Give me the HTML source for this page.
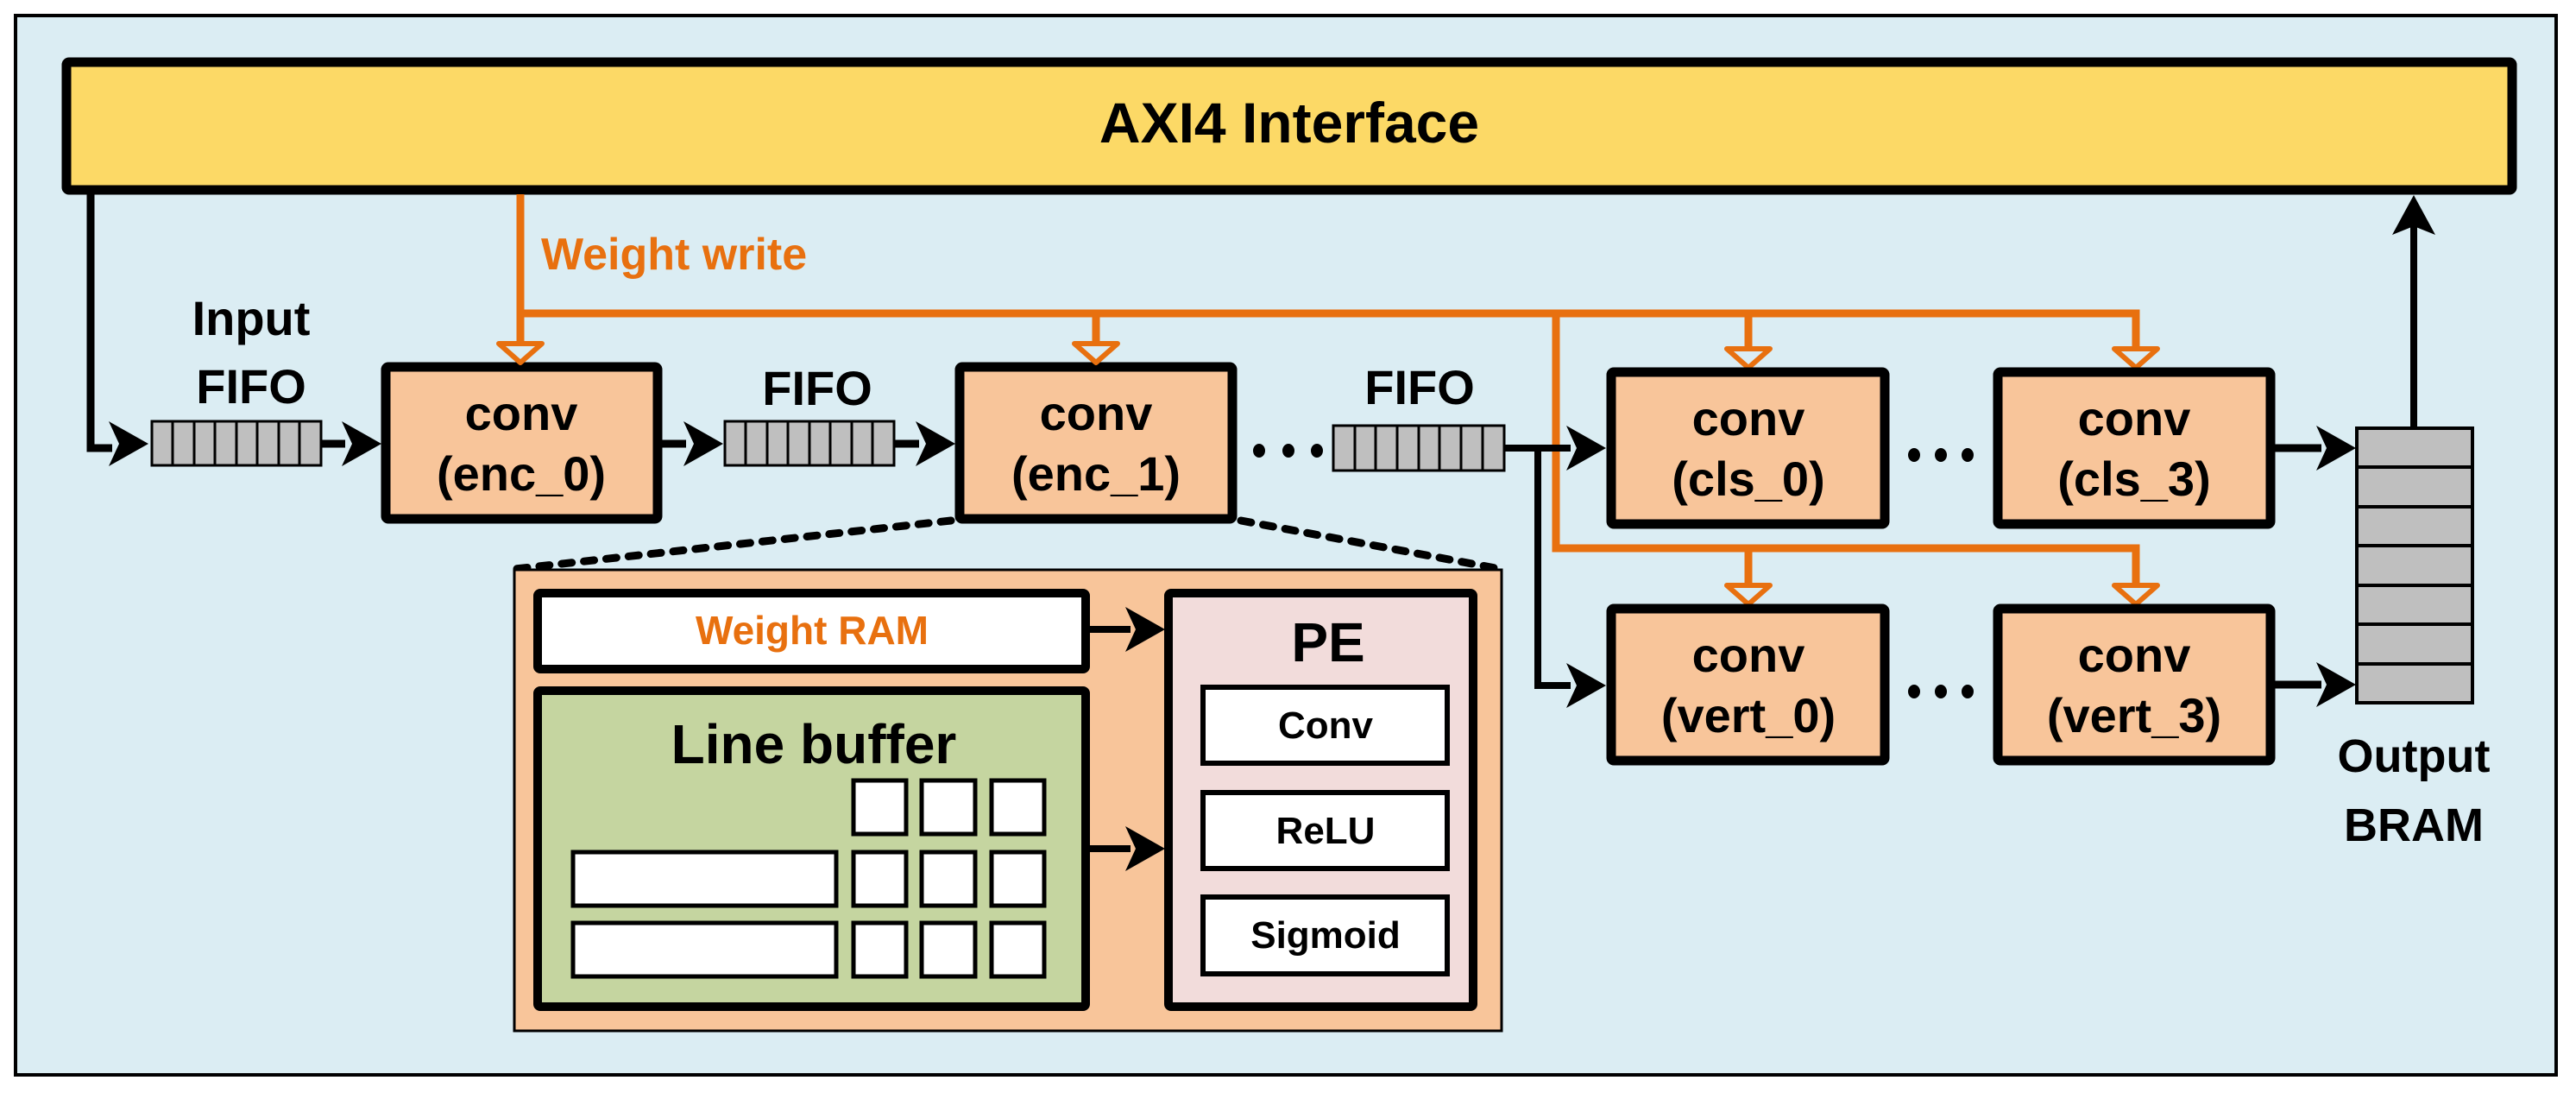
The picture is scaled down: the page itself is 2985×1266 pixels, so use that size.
<!DOCTYPE html>
<html><head><meta charset="utf-8">
<style>
html,body{margin:0;padding:0;background:#fff;}
svg{display:block;}
text{font-family:"Liberation Sans",sans-serif;font-weight:bold;}
</style></head>
<body>
<svg width="2985" height="1266" viewBox="0 0 2985 1266" xmlns="http://www.w3.org/2000/svg">
<defs>
<g id="ah"><polygon points="0,-26 46,0 0,26 12,0" fill="#000"/></g>
<g id="tri"><polygon points="-25,0 25,0 0,22" fill="#dbedf3" stroke="#e8700f" stroke-width="6" stroke-linejoin="round"/></g>
</defs>
<rect x="0" y="0" width="2985" height="1266" fill="#fff"/>
<rect x="18" y="18" width="2944" height="1227" fill="#dbedf3" stroke="#000" stroke-width="4"/>

<!-- AXI -->
<rect x="77" y="72" width="2834" height="148" rx="3" fill="#fcd966" stroke="#000" stroke-width="11"/>
<text x="1494" y="165" font-size="66" text-anchor="middle">AXI4 Interface</text>

<!-- left input line -->
<polyline points="105,225 105,519 130,519" fill="none" stroke="#000" stroke-width="9"/>
<use href="#ah" x="126" y="514"/>

<!-- Input FIFO -->
<rect x="176" y="488" width="196" height="51" fill="#bfbfbf" stroke="#000" stroke-width="3"/>
<g stroke="#000" stroke-width="3">
<line x1="200" y1="488" x2="200" y2="539"/><line x1="225" y1="488" x2="225" y2="539"/><line x1="249" y1="488" x2="249" y2="539"/><line x1="274" y1="488" x2="274" y2="539"/><line x1="298" y1="488" x2="298" y2="539"/><line x1="323" y1="488" x2="323" y2="539"/><line x1="347" y1="488" x2="347" y2="539"/>
</g>
<text x="291" y="388" font-size="56" text-anchor="middle">Input</text>
<text x="291" y="467" font-size="56" text-anchor="middle">FIFO</text>
<line x1="372" y1="514" x2="400" y2="514" stroke="#000" stroke-width="9"/>
<use href="#ah" x="396" y="514"/>

<!-- enc_0 -->
<rect x="447" y="425" width="315" height="176" rx="3" fill="#f8c59a" stroke="#000" stroke-width="11"/>
<text x="604" y="498" font-size="56" text-anchor="middle">conv</text>
<text x="604" y="568" font-size="56" text-anchor="middle">(enc_0)</text>

<line x1="767" y1="514" x2="795" y2="514" stroke="#000" stroke-width="9"/>
<use href="#ah" x="792" y="514"/>

<!-- FIFO 2 -->
<rect x="840" y="488" width="196" height="51" fill="#bfbfbf" stroke="#000" stroke-width="3"/>
<g stroke="#000" stroke-width="3">
<line x1="864" y1="488" x2="864" y2="539"/><line x1="889" y1="488" x2="889" y2="539"/><line x1="913" y1="488" x2="913" y2="539"/><line x1="938" y1="488" x2="938" y2="539"/><line x1="962" y1="488" x2="962" y2="539"/><line x1="987" y1="488" x2="987" y2="539"/><line x1="1011" y1="488" x2="1011" y2="539"/>
</g>
<text x="947" y="469" font-size="56" text-anchor="middle">FIFO</text>
<line x1="1036" y1="514" x2="1065" y2="514" stroke="#000" stroke-width="9"/>
<use href="#ah" x="1061" y="514"/>

<!-- enc_1 -->
<rect x="1112" y="425" width="316" height="176" rx="3" fill="#f8c59a" stroke="#000" stroke-width="11"/>
<text x="1270" y="498" font-size="56" text-anchor="middle">conv</text>
<text x="1270" y="568" font-size="56" text-anchor="middle">(enc_1)</text>

<!-- dots -->
<g fill="#000"><ellipse cx="1459" cy="522" rx="7" ry="8"/><ellipse cx="1493" cy="522" rx="7" ry="8"/><ellipse cx="1526" cy="522" rx="7" ry="8"/></g>

<!-- FIFO 3 -->
<rect x="1545" y="493" width="198" height="52" fill="#bfbfbf" stroke="#000" stroke-width="3"/>
<g stroke="#000" stroke-width="3">
<line x1="1570" y1="493" x2="1570" y2="545"/><line x1="1594" y1="493" x2="1594" y2="545"/><line x1="1619" y1="493" x2="1619" y2="545"/><line x1="1644" y1="493" x2="1644" y2="545"/><line x1="1668" y1="493" x2="1668" y2="545"/><line x1="1693" y1="493" x2="1693" y2="545"/><line x1="1718" y1="493" x2="1718" y2="545"/>
</g>
<text x="1645" y="468" font-size="56" text-anchor="middle">FIFO</text>

<!-- orange weight write -->
<g fill="none" stroke="#e8700f" stroke-width="9">
<line x1="603" y1="225" x2="603" y2="400"/>
<polyline points="603,363 2475,363 2475,405"/>
<line x1="1270" y1="363" x2="1270" y2="400"/>
<line x1="2026" y1="363" x2="2026" y2="405"/>
<polyline points="1803,363 1803,635 2475,635 2475,678"/>
<line x1="2026" y1="635" x2="2026" y2="678"/>
</g>
<use href="#tri" x="603" y="398"/>
<use href="#tri" x="1270" y="398"/>
<use href="#tri" x="2026" y="404"/>
<use href="#tri" x="2475" y="404"/>
<use href="#tri" x="2026" y="678"/>
<use href="#tri" x="2475" y="678"/>
<text x="627" y="312" font-size="52" fill="#e8700f">Weight write</text>

<!-- black from FIFO3 -->
<polyline points="1743,519 1820,519" fill="none" stroke="#000" stroke-width="8"/>
<polyline points="1782,519 1782,794 1820,794" fill="none" stroke="#000" stroke-width="8"/>
<use href="#ah" x="1815" y="519"/>
<use href="#ah" x="1815" y="794"/>

<!-- cls / vert boxes -->
<g fill="#f8c59a" stroke="#000" stroke-width="11">
<rect x="1867" y="431" width="317" height="176" rx="3"/>
<rect x="2315" y="431" width="316" height="176" rx="3"/>
<rect x="1867" y="705" width="317" height="176" rx="3"/>
<rect x="2315" y="705" width="316" height="176" rx="3"/>
</g>
<g font-size="56" text-anchor="middle">
<text x="2026" y="504">conv</text><text x="2026" y="574">(cls_0)</text>
<text x="2473" y="504">conv</text><text x="2473" y="574">(cls_3)</text>
<text x="2026" y="778">conv</text><text x="2026" y="848">(vert_0)</text>
<text x="2473" y="778">conv</text><text x="2473" y="848">(vert_3)</text>
</g>
<g fill="#000">
<ellipse cx="2218" cy="527" rx="7" ry="8"/><ellipse cx="2249" cy="527" rx="7" ry="8"/><ellipse cx="2280" cy="527" rx="7" ry="8"/>
<ellipse cx="2218" cy="801" rx="7" ry="8"/><ellipse cx="2249" cy="801" rx="7" ry="8"/><ellipse cx="2280" cy="801" rx="7" ry="8"/>
</g>

<!-- to BRAM -->
<line x1="2636" y1="519" x2="2690" y2="519" stroke="#000" stroke-width="9"/>
<use href="#ah" x="2684" y="519"/>
<line x1="2636" y1="793" x2="2690" y2="793" stroke="#000" stroke-width="9"/>
<use href="#ah" x="2684" y="793"/>

<!-- BRAM -->
<rect x="2731" y="496" width="134" height="318" fill="#bfbfbf" stroke="#000" stroke-width="4"/>
<g stroke="#000" stroke-width="4">
<line x1="2731" y1="541" x2="2865" y2="541"/><line x1="2731" y1="587" x2="2865" y2="587"/><line x1="2731" y1="632" x2="2865" y2="632"/><line x1="2731" y1="678" x2="2865" y2="678"/><line x1="2731" y1="723" x2="2865" y2="723"/><line x1="2731" y1="769" x2="2865" y2="769"/>
</g>
<line x1="2797" y1="496" x2="2797" y2="262" stroke="#000" stroke-width="8"/>
<polygon points="2797,226 2822,272 2797,262 2772,272" fill="#000"/>
<text x="2797" y="894" font-size="54" text-anchor="middle">Output</text>
<text x="2797" y="974" font-size="54" text-anchor="middle">BRAM</text>

<!-- dotted zoom lines -->
<g stroke="#000" stroke-width="9" stroke-linecap="round" stroke-dasharray="12 14" fill="none">
<line x1="1102" y1="603" x2="597" y2="659"/>
<line x1="1438" y1="603" x2="1738" y2="659"/>
</g>

<!-- detail panel -->
<rect x="596" y="660" width="1144" height="534" fill="#f8c59a" stroke="#000" stroke-width="3"/>
<rect x="623" y="687" width="635" height="88" rx="3" fill="#fff" stroke="#000" stroke-width="10"/>
<text x="941" y="746" font-size="46" fill="#e8700f" text-anchor="middle">Weight RAM</text>
<rect x="623" y="800" width="635" height="366" rx="3" fill="#c5d5a0" stroke="#000" stroke-width="10"/>
<text x="943" y="884" font-size="64" text-anchor="middle">Line buffer</text>
<g fill="#fff" stroke="#000" stroke-width="5">
<rect x="989" y="904" width="61" height="62"/><rect x="1068" y="904" width="62" height="62"/><rect x="1149" y="904" width="61" height="62"/>
<rect x="989" y="987" width="61" height="62"/><rect x="1068" y="987" width="62" height="62"/><rect x="1149" y="987" width="61" height="62"/>
<rect x="989" y="1069" width="61" height="62"/><rect x="1068" y="1069" width="62" height="62"/><rect x="1149" y="1069" width="61" height="62"/>
<rect x="664" y="987" width="305" height="62"/>
<rect x="664" y="1069" width="305" height="62"/>
</g>
<line x1="1263" y1="729" x2="1310" y2="729" stroke="#000" stroke-width="8"/>
<use href="#ah" x="1304" y="729"/>
<line x1="1263" y1="983" x2="1310" y2="983" stroke="#000" stroke-width="8"/>
<use href="#ah" x="1304" y="983"/>

<rect x="1354" y="687" width="353" height="479" rx="3" fill="#f2dcdb" stroke="#000" stroke-width="10"/>
<text x="1539" y="766" font-size="64" text-anchor="middle">PE</text>
<g fill="#fff" stroke="#000" stroke-width="6">
<rect x="1394" y="796" width="283" height="88"/>
<rect x="1394" y="918" width="283" height="88"/>
<rect x="1394" y="1039" width="283" height="89"/>
</g>
<g font-size="44" text-anchor="middle">
<text x="1536" y="855">Conv</text>
<text x="1536" y="977">ReLU</text>
<text x="1536" y="1098">Sigmoid</text>
</g>
</svg>
</body></html>
